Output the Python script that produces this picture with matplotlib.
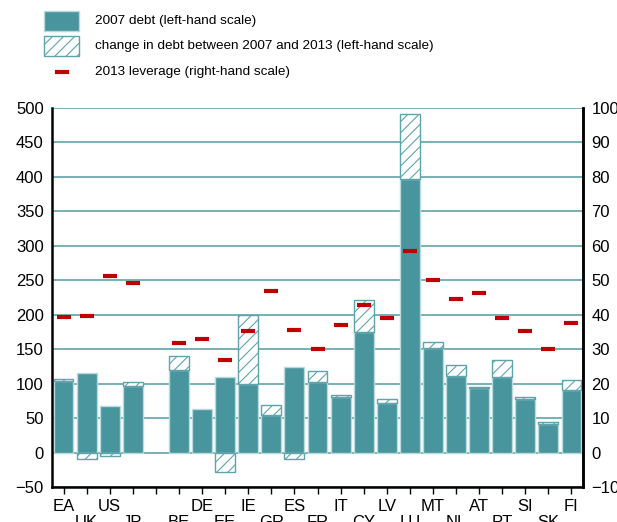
import numpy as np
import matplotlib.pyplot as plt
from matplotlib.patches import Rectangle
from matplotlib.lines import Line2D

plt.rcParams['font.family'] = ['Liberation Sans', 'DejaVu Sans']
plt.rcParams['hatch.linewidth'] = 0.8

# data (gap slot between JP and BE is left empty)
countries = ['EA', 'UK', 'US', 'JP', '', 'BE', 'DE', 'EE', 'IE', 'GR', 'ES', 'FR',
             'IT', 'CY', 'LV', 'LU', 'MT', 'NL', 'AT', 'PT', 'SI', 'SK', 'FI']
debt_2007 = [104, 115, 67, 97, np.nan, 120, 63, 110, 100, 55, 124, 103,
             81, 175, 72, 397, 152, 111, 93, 110, 78, 42, 91]
debt_change = [3, -10, -5, 6, np.nan, 20, 0, -28, 100, 14, -10, 16,
               2, 47, 5, 94, 8, 16, 2, 25, 3, 2, 14]
leverage_2013 = [39.3, 39.6, 51.2, 49.2, np.nan, 31.7, 32.9, 27.0, 35.2, 46.9, 35.5, 30.0,
                 36.9, 42.8, 39.0, 58.5, 50.0, 44.5, 46.3, 39.0, 35.2, 30.0, 37.5]

teal = '#48959d'
grid_col = '#5fa3ab'
edge_col = '#b9dadd'
red = '#c00000'

x = np.arange(len(countries))
d07 = np.array(debt_2007, dtype=float)
chg = np.array(debt_change, dtype=float)
pos_chg = np.where(chg > 0, chg, np.nan)
neg_chg = np.where(chg < 0, chg, np.nan)

fig = plt.figure(figsize=(6.17, 5.22), dpi=100)
ax = fig.add_axes([52/617, 1-487/522, 531/617, 379/522])

ax.bar(x, d07, width=0.86, color=teal, edgecolor=edge_col, linewidth=1, zorder=2)
ax.bar(x, pos_chg, bottom=d07, width=0.86, color='white', edgecolor=grid_col,
       hatch='///', linewidth=1, zorder=2)
ax.bar(x, neg_chg, width=0.86, color='white', edgecolor=grid_col,
       hatch='///', linewidth=1, zorder=2)

ax.set_xlim(-0.5, len(countries) - 0.5)
ax.set_ylim(-50, 500)
ax.set_yticks(np.arange(-50, 501, 50))
ax.yaxis.grid(True, color=grid_col, linewidth=1.2, zorder=0)
ax.set_axisbelow(True)
ax.tick_params(axis='y', length=0, labelsize=12, pad=6)

labels = [c if i % 2 == 0 else '\n' + c for i, c in enumerate(countries)]
ax.set_xticks(x)
ax.set_xticklabels(labels, fontsize=12, linespacing=1.1)
ax.tick_params(axis='x', length=5, width=1, direction='out', color='black')

ax.spines['top'].set_visible(False)
for s in ['left', 'right', 'bottom']:
    ax.spines[s].set_linewidth(1.8)

ax2 = ax.twinx()
ax2.set_ylim(-10, 100)
ax2.set_yticks(np.arange(-10, 101, 10))
ax2.tick_params(axis='y', length=0, labelsize=12, pad=6)
ax2.plot(x, leverage_2013, linestyle='none', marker='_', markersize=10,
         markeredgewidth=3, color=red, zorder=5)
for s in ['top', 'left', 'bottom']:
    ax2.spines[s].set_visible(False)
ax2.spines['right'].set_linewidth(1.8)

# legend
fig.add_artist(Rectangle((44/617, 1-31/522), 35/617, 20/522, transform=fig.transFigure,
                         facecolor=teal, edgecolor=edge_col, linewidth=1))
fig.add_artist(Rectangle((44/617, 1-56/522), 35/617, 20/522, transform=fig.transFigure,
                         facecolor='white', edgecolor=grid_col, hatch='///', linewidth=1))
fig.add_artist(Line2D([57/617, 67/617], [1-72/522, 1-72/522], transform=fig.transFigure,
                      color=red, linewidth=3))
fig.text(95/617, 1-21/522, '2007 debt (left-hand scale)', fontsize=9.7, va='center')
fig.text(95/617, 1-46/522, 'change in debt between 2007 and 2013 (left-hand scale)',
         fontsize=9.7, va='center')
fig.text(95/617, 1-72/522, '2013 leverage (right-hand scale)', fontsize=9.7, va='center')

fig.savefig('out.png', dpi=100)
